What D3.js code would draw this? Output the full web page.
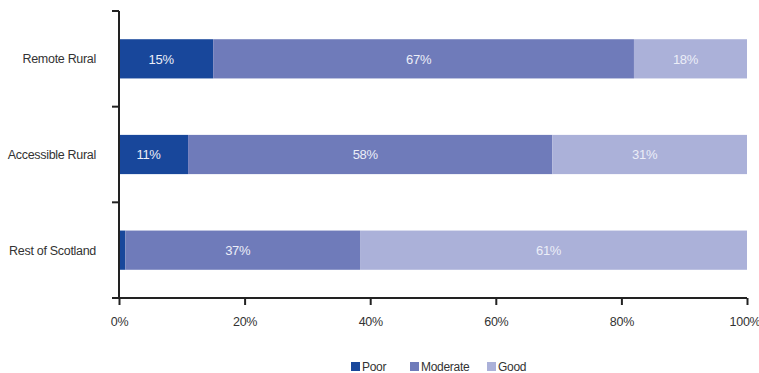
<!DOCTYPE html>
<html>
<head>
<meta charset="utf-8">
<script src="https://cdn.jsdelivr.net/npm/d3@7"></script>
<style>
  html, body { margin: 0; padding: 0; background: #fff; }
  svg { display: block; font-family: "Liberation Sans", Arial, sans-serif; letter-spacing: -0.3px; }
</style>
</head>
<body>
<svg id="chart" width="759" height="373"></svg>
<script>
// Condition ratings by area type (percent of each area)
const categories = ["Remote Rural", "Accessible Rural", "Rest of Scotland"];
const seriesNames = ["Poor", "Moderate", "Good"];
const poor = [15, 11, 1];
const moderate = [67, 58, 37];
const good = [18, 31, 61];
const xTicks = [0, 20, 40, 60, 80, 100];
const colors = ["#18479b", "#6f7bba", "#abb1d9"];

const svg = d3.select("#chart");
const margin = { left: 119, right: 12, top: 11, bottom: 75 };
const W = 759, H = 373;

const x = d3.scaleLinear().domain([0, 100]).range([margin.left, W - margin.right]);
const y = d3.scaleBand().domain(categories).range([margin.top, H - margin.bottom]).paddingInner(0.59).paddingOuter(0.295);

const rows = categories.map((c, i) => {
  const vals = [poor[i], moderate[i], good[i]];
  const total = d3.sum(vals);
  let acc = 0;
  return vals.map((v, j) => {
    const s = { cat: c, series: seriesNames[j], value: v, x0: acc / total * 100, x1: (acc + v) / total * 100 };
    acc += v;
    return s;
  });
});

// Stacked segments
const seg = svg.append("g").selectAll("g").data(rows).join("g");
seg.selectAll("rect").data(d => d).join("rect")
  .attr("x", d => x(d.x0))
  .attr("y", d => y(d.cat))
  .attr("width", d => x(d.x1) - x(d.x0))
  .attr("height", y.bandwidth())
  .attr("fill", (d, j) => colors[j]);

// Value labels inside segments
seg.selectAll("text").data(d => d.filter(s => s.value >= 5)).join("text")
  .attr("x", d => (x(d.x0) + x(d.x1)) / 2 - 5)
  .attr("y", d => y(d.cat) + y.bandwidth() / 2)
  .attr("dy", "0.36em")
  .attr("text-anchor", "middle")
  .attr("fill", "#eceef8")
  .attr("font-size", 13)
  .text(d => d.value + "%");

// Category axis with ticks between bands
const yAxisG = svg.append("g");
yAxisG.append("line")
  .attr("x1", margin.left).attr("x2", margin.left)
  .attr("y1", margin.top).attr("y2", H - margin.bottom)
  .attr("stroke", "#222").attr("stroke-width", 2);
const bounds = d3.range(categories.length + 1).map(i => margin.top + i * (H - margin.bottom - margin.top) / categories.length);
yAxisG.selectAll("line.tick").data(bounds).join("line")
  .attr("class", "tick")
  .attr("x1", margin.left - 7).attr("x2", margin.left)
  .attr("y1", d => d).attr("y2", d => d)
  .attr("stroke", "#222").attr("stroke-width", 2);
yAxisG.selectAll("text").data(categories).join("text")
  .attr("x", 96)
  .attr("y", d => y(d) + y.bandwidth() / 2)
  .attr("dy", "0.36em")
  .attr("text-anchor", "end")
  .attr("fill", "#333")
  .attr("font-size", 12.5)
  .text(d => d);

// Percentage axis
const xAxis = d3.axisBottom(x).tickValues(xTicks).tickFormat(d => d + "%").tickSize(7).tickPadding(12);
const xg = svg.append("g").attr("transform", `translate(0,${H - margin.bottom})`).call(xAxis);
xg.select(".domain").attr("stroke", "#222").attr("stroke-width", 2).attr("d", `M${margin.left - 7},0H${x(100)}`);
xg.selectAll(".tick line").attr("stroke", "#222").attr("stroke-width", 2);
xg.selectAll(".tick text").attr("fill", "#333").attr("font-size", 12.5).attr("font-family", "Liberation Sans, Arial, sans-serif");
// keep the last label inside the canvas
xg.selectAll(".tick text").filter(d => d === 100).attr("dx", "-2.5");

// Legend
const legendX = [351, 410, 487];
const lg = svg.append("g").selectAll("g").data(seriesNames).join("g")
  .attr("transform", (d, i) => `translate(${legendX[i]},362)`);
lg.append("rect").attr("width", 9).attr("height", 9).attr("fill", (d, i) => colors[i]);
lg.append("text").attr("x", 11).attr("y", 5).attr("dy", "0.36em")
  .attr("fill", "#333").attr("font-size", 12).text(d => d);
</script>
</body>
</html>
